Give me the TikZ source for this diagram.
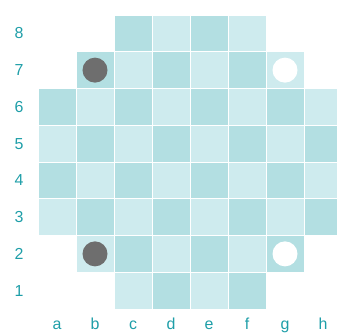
\documentclass[tikz,border=0pt]{standalone}
\usepackage{fontspec}
\setmainfont{Liberation Sans}
\definecolor{dk}{HTML}{B3DFE2}
\definecolor{lt}{HTML}{CEEBEE}
\definecolor{lbl}{HTML}{1E9EA8}
\definecolor{pc}{HTML}{6E6E6E}
\tikzset{
  cellbox/.style={rectangle, draw=white, line width=0.8bp, inner sep=0pt, minimum width=38bp, minimum height=36.75bp},
  piece/.style={circle, inner sep=0pt, minimum size=25bp},
  lab/.style={text=lbl, font=\fontsize{16}{16}\selectfont, inner sep=0pt}
}
\begin{document}
\begin{tikzpicture}[x=1bp,y=1bp]
\useasboundingbox (0,0) rectangle (337,333);
\begin{scope}
\clip (0,0) rectangle (337,333);
\foreach \r/\a/\b in {8/3/6,7/2/7,6/1/8,5/1/8,4/1/8,3/1/8,2/2/7,1/3/6} {
  \foreach \c in {\a,...,\b} {
    \pgfmathtruncatemacro\s{mod(\c+\r,2)}
    \ifnum\s=1
      \node[cellbox, fill=dk] (cell-\c-\r) at ({19+38*\c},{5.625+36.75*\r}) {};
    \else
      \node[cellbox, fill=lt] (cell-\c-\r) at ({19+38*\c},{5.625+36.75*\r}) {};
    \fi
  }
}
\end{scope}
\node[piece, fill=pc] (pb7) at (cell-2-7) {};
\node[piece, fill=white] (pg7) at (cell-7-7) {};
\node[piece, fill=pc] (pb2) at (cell-2-2) {};
\node[piece, fill=white] (pg2) at (cell-7-2) {};
\foreach \r in {1,...,8} {
  \node[lab] (row\r) at (19,{5.625+36.75*\r}) {\r};
}
\foreach \c/\l in {1/a,2/b,3/c,4/d,5/e,6/f,7/g,8/h} {
  \node[lab, anchor=base] (col\l) at ({19+38*\c},4) {\l};
}
\end{tikzpicture}
\end{document}
